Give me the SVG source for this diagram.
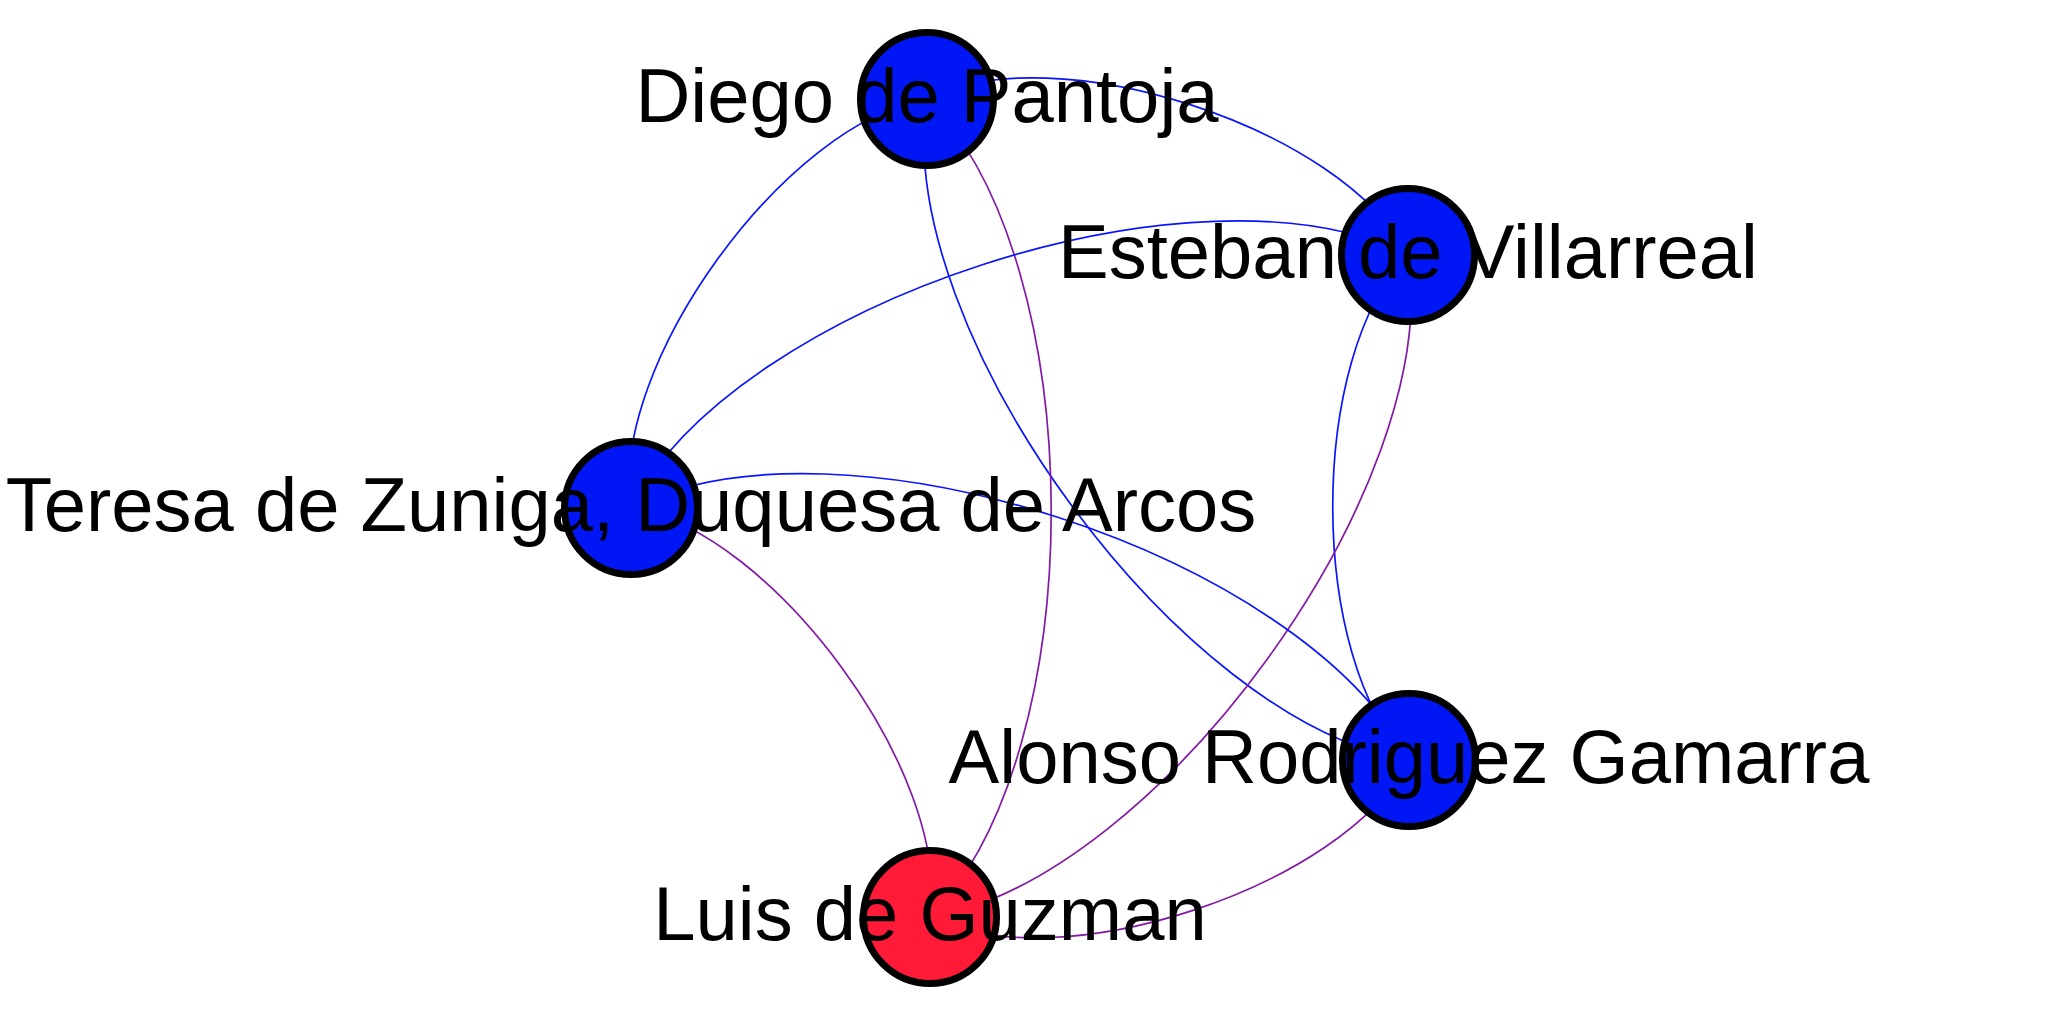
<svg xmlns="http://www.w3.org/2000/svg" width="2048" height="1024" viewBox="0 0 2048 1024">
<style>
.e{fill:none;stroke-width:1.7}
.b{stroke:#0a14ff}
.p{stroke:#8418a8}
.n{stroke:#000;stroke-width:7}
.nb{fill:#0016f5}
.nr{fill:#ff1a38}
.l{font-family:"Liberation Sans",Arial,sans-serif;font-size:76px;text-anchor:middle;fill:#000}
</style>
<rect width="2048" height="1024" fill="#fff"/>
<g id="edges">
<path class="e b" d="M927,99 C1054.4,34 1343,127.6 1408,255"/>
<path class="e b" d="M927,99 C786,121.6 608.4,367 631,508"/>
<path class="e b" d="M927,99 C891.2,327.6 1180.4,724.2 1409,760"/>
<path class="e p" d="M927,99 C1091.2,262 1093,752.8 930,917"/>
<path class="e b" d="M1408,255 C1202,150.2 735.8,302 631,508"/>
<path class="e b" d="M1408,255 C1307.2,356.2 1307.8,659.2 1409,760"/>
<path class="e p" d="M1408,255 C1444.8,483 1158,880.2 930,917"/>
<path class="e b" d="M631,508 C837,402.8 1303.8,554 1409,760"/>
<path class="e p" d="M631,508 C772.6,530 952,775.4 930,917"/>
<path class="e p" d="M1409,760 C1344.6,887.2 1057.2,981.4 930,917"/>
</g>
<g id="node-diego"><circle class="n nb" cx="927" cy="99" r="66.5"/></g>
<g id="node-esteban"><circle class="n nb" cx="1408" cy="255" r="66.5"/></g>
<g id="node-teresa"><circle class="n nb" cx="631" cy="508" r="66.5"/></g>
<g id="node-alonso"><circle class="n nb" cx="1409" cy="760" r="66.5"/></g>
<g id="node-luis"><circle class="n nr" cx="930" cy="917" r="66.5"/></g>
<g id="labels">
<text class="l" x="927" y="122">Diego de Pantoja</text>
<text class="l" x="1408" y="278">Esteban de Villarreal</text>
<text class="l" x="631" y="531">Teresa de Zuniga, Duquesa de Arcos</text>
<text class="l" x="1409" y="783">Alonso Rodriguez Gamarra</text>
<text class="l" x="930" y="940">Luis de Guzman</text>
</g>
</svg>
